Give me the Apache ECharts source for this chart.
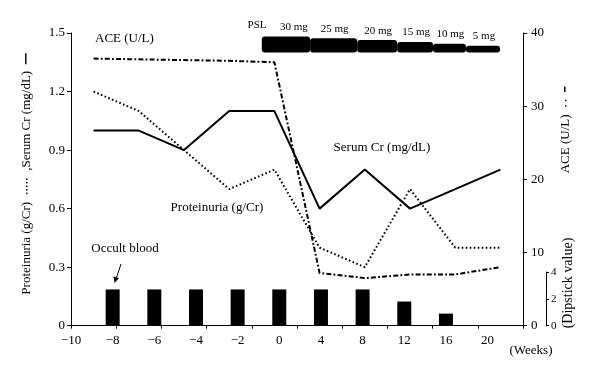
<!DOCTYPE html>
<html>
<head>
<meta charset="utf-8">
<script src="https://cdn.jsdelivr.net/npm/echarts@6/dist/echarts.min.js"></script>
<style>
html,body{margin:0;padding:0;background:#fff;}
#chart{width:600px;height:379px;}
</style>
</head>
<body>
<div id="chart"></div>
<script>
// ---- data ----
var tickLabels = ['\u221210', '\u22128', '\u22126', '\u22124', '\u22122', '0', '4', '8', '12', '16', '20'];
var weeks = ['-8', '-6', '-4', '-2', '0', '4', '8', '12', '16', '20'];
var serumCr = [1.0, 1.0, 0.9, 1.1, 1.1, 0.6, 0.8, 0.6, 0.7, 0.8];
var proteinuria = [1.2, 1.1, 0.9, 0.7, 0.8, 0.4, 0.3, 0.7, 0.4, 0.4];
var ace = [36.5, 36.4, 36.3, 36.2, 36.0, 7.2, 6.5, 7.0, 7.0, 8.0];
var occultWeeks = ['\u22128', '\u22126', '\u22124', '\u22122', '0', '4', '8', '12', '16'];
var occultValues = [2.7, 2.7, 2.7, 2.7, 2.7, 2.7, 2.7, 1.8, 0.9];
var pslDoses = [30, 25, 20, 15, 10, 5];
var pslEdges = [4.58, 5.74, 6.87, 7.83, 8.69, 9.48, 10.30]; // positions on the week tick scale
var leftTicks = [0, 0.3, 0.6, 0.9, 1.2, 1.5];

var FONT = 'Liberation Serif';
var xMaxK = 10.85;

var barData = occultWeeks.map(function (w, i) { return [tickLabels.indexOf(w), occultValues[i]]; });
var pslData = pslDoses.map(function (d, i) { return [pslEdges[i], pslEdges[i + 1], d]; });

var chart = echarts.init(document.getElementById('chart'), null, {renderer: 'canvas'});

var option = {
  animation: false,
  backgroundColor: '#fff',
  grid: [
    {left: 71, right: 77, top: 33, bottom: 53.3},
    {left: 71, right: 77, top: 272, bottom: 53.3}
  ],
  xAxis: [
    { // week tick labels scale
      type: 'value', gridIndex: 0, min: 0, max: xMaxK, interval: 1,
      axisLine: {show: true, onZero: false, lineStyle: {color: '#000', width: 1}},
      axisTick: {show: false},
      splitLine: {show: false},
      axisLabel: {
        fontFamily: FONT, fontSize: 13, color: '#000', margin: 8, showMaxLabel: false,
        formatter: function (v) { var i = Math.round(v); return (Math.abs(v - i) < 1e-6 && i <= 10) ? tickLabels[i] : ''; }
      }
    },
    { // category scale of the lines
      type: 'category', gridIndex: 0, data: weeks, boundaryGap: true, position: 'bottom',
      axisLine: {show: false, onZero: false},
      axisTick: {show: true, length: 3, lineStyle: {color: '#000'}},
      axisLabel: {show: false},
      splitLine: {show: false}
    },
    {
      type: 'value', gridIndex: 1, min: 0, max: xMaxK, show: false,
      axisLine: {onZero: false}
    }
  ],
  yAxis: [
    {
      type: 'value', gridIndex: 0, min: 0, max: 1.5, interval: 0.3, position: 'left',
      axisLine: {show: true, onZero: false, lineStyle: {color: '#000', width: 1}},
      axisTick: {show: true, length: 4, lineStyle: {color: '#000'}},
      splitLine: {show: false},
      axisLabel: {fontFamily: FONT, fontSize: 13, color: '#000', margin: 6,
        formatter: function (v) { return v === 0 ? '0' : v.toFixed(1); }}
    },
    {
      type: 'value', gridIndex: 0, min: 0, max: 40, interval: 10, position: 'right',
      axisLine: {show: true, onZero: false, lineStyle: {color: '#000', width: 1}},
      axisTick: {show: true, length: 4, lineStyle: {color: '#000'}},
      splitLine: {show: false},
      axisLabel: {fontFamily: FONT, fontSize: 13, color: '#000', margin: 8}
    },
    {
      type: 'value', gridIndex: 1, min: 0, max: 4, interval: 2, position: 'right', offset: 23,
      axisLine: {show: true, onZero: false, lineStyle: {color: '#000', width: 1}},
      axisTick: {show: true, length: 3, lineStyle: {color: '#000'}},
      splitLine: {show: false},
      axisLabel: {fontFamily: FONT, fontSize: 11, color: '#000', margin: 5}
    }
  ],
  series: [
    {
      name: 'Occult blood', type: 'bar', xAxisIndex: 2, yAxisIndex: 2, data: barData,
      barWidth: 14, itemStyle: {color: '#000'}
    },
    {
      name: 'Serum Cr', type: 'line', xAxisIndex: 1, yAxisIndex: 0, data: serumCr,
      symbol: 'none', lineStyle: {color: '#000', width: 2, type: 'solid'}
    },
    {
      name: 'Proteinuria', type: 'line', xAxisIndex: 1, yAxisIndex: 0, data: proteinuria,
      symbol: 'none', lineStyle: {color: '#000', width: 2, type: [1.6, 2.4]}
    },
    {
      name: 'ACE', type: 'line', xAxisIndex: 1, yAxisIndex: 1, data: ace,
      symbol: 'none', lineStyle: {color: '#000', width: 2, type: [5, 2.2, 1.8, 2.2]}
    },
    {
      name: 'PSL', type: 'custom', xAxisIndex: 0, yAxisIndex: 0, data: pslData,
      renderItem: function (params, api) {
        var s = api.coord([api.value(0), 1.4]);
        var e = api.coord([api.value(1), 1.4]);
        var dose = api.value(2);
        var h = 5 + dose * 0.37;
        return {
          type: 'group',
          children: [
            {type: 'rect', shape: {x: s[0], y: s[1] - h, width: e[0] - s[0], height: h, r: 3},
             style: {fill: '#000'}},
            {type: 'text', style: {text: dose + ' mg', x: (s[0] + e[0]) / 2 + (params.dataIndex === 0 ? 8 : 1), y: s[1] - h - 4,
              textAlign: 'center', textVerticalAlign: 'bottom', font: '11px "' + FONT + '"', fill: '#000'}}
          ]
        };
      }
    }
  ],
  graphic: [
    {type: 'text', left: 95, top: 32, style: {text: 'ACE (U/L)', font: '13px "' + FONT + '"', fill: '#000'}},
    {type: 'text', x: 382, y: 148, style: {text: 'Serum Cr (mg/dL)', font: '13px "' + FONT + '"', fill: '#000', textAlign: 'center', textVerticalAlign: 'middle'}},
    {type: 'text', x: 217, y: 208, style: {text: 'Proteinuria (g/Cr)', font: '13px "' + FONT + '"', fill: '#000', textAlign: 'center', textVerticalAlign: 'middle'}},
    {type: 'text', x: 125, y: 249, style: {text: 'Occult blood', font: '13px "' + FONT + '"', fill: '#000', textAlign: 'center', textVerticalAlign: 'middle'}},
    {type: 'line', shape: {x1: 121, y1: 264, x2: 116, y2: 279}, style: {stroke: '#000', lineWidth: 1}},
    {type: 'polygon', shape: {points: [[114.5, 283], [113.5, 276.5], [119, 278]]}, style: {fill: '#000'}},
    {type: 'text', x: 257, y: 25, style: {text: 'PSL', font: '11px "' + FONT + '"', fill: '#000', textAlign: 'center', textVerticalAlign: 'middle'}},
    {type: 'text', x: 531, y: 351, style: {text: '(Weeks)', font: '13px "' + FONT + '"', fill: '#000', textAlign: 'center', textVerticalAlign: 'middle'}},
    {type: 'text', x: 568, y: 283, rotation: Math.PI / 2, style: {text: '(Dipstick value)', font: '14px "' + FONT + '"', fill: '#000', textAlign: 'center', textVerticalAlign: 'middle'}},
    {type: 'text', x: 27, y: 174, rotation: Math.PI / 2,
     style: {text: '{t|Proteinuria (g/Cr)}  {d|\u2022\u2022\u2022\u2022\u2022}  {t|,Serum Cr (mg/dL)}  {s|\u2501\u2501}',
       textAlign: 'center', textVerticalAlign: 'middle',
       rich: {t: {fontFamily: FONT, fontSize: 13, color: '#000'},
              d: {fontFamily: 'DejaVu Sans', fontSize: 6, color: '#000'},
              s: {fontFamily: 'DejaVu Sans', fontSize: 9, color: '#000', fontWeight: 'bold'}}}},
    {type: 'text', x: 566, y: 130, rotation: Math.PI / 2,
     style: {text: '{t|ACE (U/L)}  {d|\u2022 \u2022}  {s|\u2501}',
       textAlign: 'center', textVerticalAlign: 'middle',
       rich: {t: {fontFamily: FONT, fontSize: 13, color: '#000'},
              d: {fontFamily: 'DejaVu Sans', fontSize: 6, color: '#000'},
              s: {fontFamily: 'DejaVu Sans', fontSize: 9, color: '#000', fontWeight: 'bold'}}}}
  ]
};
chart.setOption(option);
</script>
</body>
</html>
